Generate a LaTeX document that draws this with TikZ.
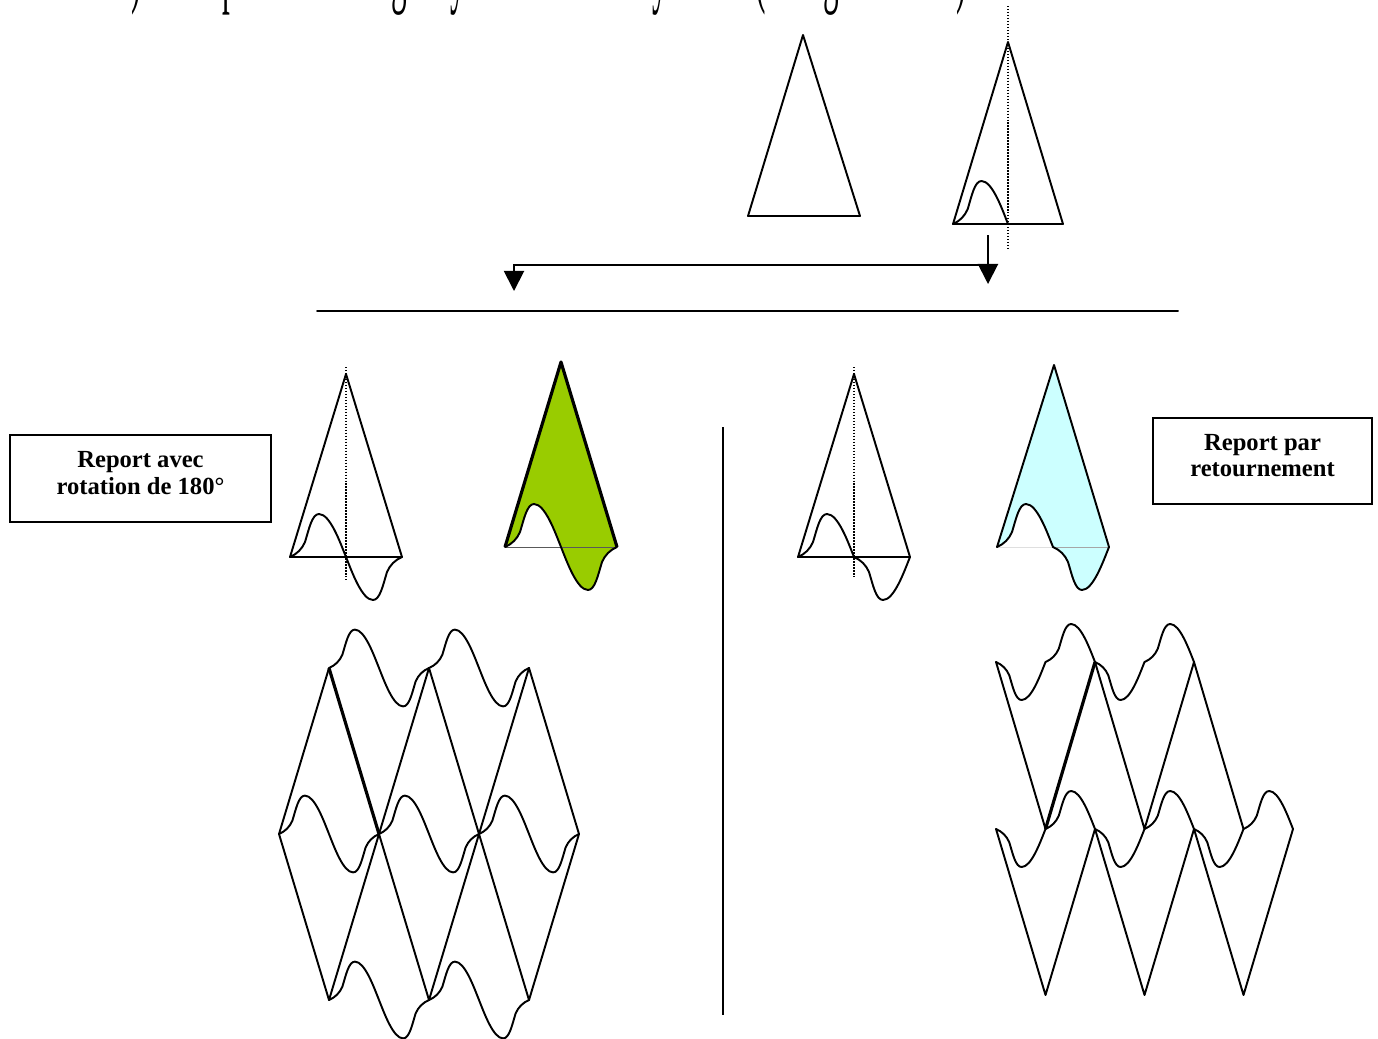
\documentclass[tikz,border=0pt]{standalone}
\usepackage{fontspec}
\setmainfont{Liberation Serif}
\usetikzlibrary{arrows.meta}

\definecolor{vertpomme}{HTML}{99CC00}
\definecolor{bleuciel}{HTML}{CCFFFF}

\begin{document}
\begin{tikzpicture}[x=0.02cm, y=-0.02cm,
					trait/.style = {line width=1.1pt, line join=round, line cap=round},
					fort/.style = {line width=1.8pt, line join=round},
					axe/.style = {line width=0.8pt, dash pattern=on 0.8pt off 0.9pt},
					fleche/.style = {line width=1.1pt, -{Triangle[length=11.5pt, width=11.5pt]}},
					cadre/.style = {draw, line width=1pt, align=center, inner sep=0pt, text depth=6.5pt,
						font=\fontsize{14}{15}\selectfont\bfseries}
				]

				% bosse sur la moitie gauche de la base (base de 112, sommet en (56,-183))
				\def\bosse{.. controls (7,-3) and (12,-8) .. (15,-15)
					.. controls (19,-28) and (22,-43) .. (29,-43)
					.. controls (40,-43) and (50,-15) .. (56,0)}
				% la meme tournee de 180 degres autour du milieu de la base
				\def\bosserot{.. controls (62,15) and (72,43) .. (83,43)
					.. controls (90,43) and (93,28) .. (97,15)
					.. controls (100,8) and (105,3) .. (112,0)}
				% la meme retournee sous la base
				\def\bosseret{.. controls (63,3) and (68,8) .. (71,15)
					.. controls (75,28) and (78,43) .. (85,43)
					.. controls (96,43) and (106,15) .. (112,0)}

				\useasboundingbox (0,0) rectangle (1378,1038);
				\clip (0,0) rectangle (1378,1038);

				\node[anchor=base west, inner sep=0pt, font=\fontsize{17.8}{20}\selectfont] (titre)
				at (131,-4) {\scalebox{1}[2.8]{) Exemple d’un triangle ayant un axe de symétrie (triangle isocèle)}};

				% triangles de depart
				\draw[trait] (748,216) -- (803,35) -- (860,216) -- cycle;
				\begin{scope}[shift={(953,224)}, xscale=0.982]
					\draw[trait] (0,0) -- (56,-182) -- (112,0) -- cycle;
					\draw[trait] (0,0) \bosse;
				\end{scope}
				\draw[axe] (1008,6) -- (1008,248);

				\coordinate (depart) at (988,235);
				\coordinate (coude) at (988,265);
				\coordinate (droite) at (988,284);
				\coordinate (gauche) at (514,265);
				\coordinate (bas) at (514,291);
				\draw[fleche] (depart) -- (droite);
				\draw[fleche] (coude) -- (gauche) -- (bas);

				\coordinate (regle-g) at (317,311);
				\coordinate (regle-d) at (1178,311);
				\draw[trait] (regle-g) -- (regle-d);
				\coordinate (sep-h) at (723,427);
				\coordinate (sep-b) at (723,1015);
				\draw[line width=0.9pt] (sep-h) -- (sep-b);

				\node[cadre, minimum width=5.22cm, minimum height=1.74cm] (rotation)
				at (140.5,478.5) {Report avec\\rotation de 180°};
				\node[cadre, minimum width=4.38cm, minimum height=1.72cm] (retournement)
				at (1262.5,461) {Report par\\retournement};

				% report avec rotation
				\begin{scope}[shift={(290,557)}]
					\draw[trait] (0,0) -- (56,-183) -- (112,0) -- cycle;
					\draw[trait] (0,0) \bosse \bosserot;
				\end{scope}
				\draw[axe] (346,367) -- (346,580);
				\begin{scope}[shift={(505,547)}]
					\fill[vertpomme] (0,0) \bosse \bosserot -- (56,-185) -- cycle;
					\draw[gray!70!black, line width=0.5pt] (0,0) -- (112,0);
					\draw[trait] (0,0) \bosse \bosserot;
					\draw[fort] (0,0) -- (56,-185) -- (112,0);
				\end{scope}

				% report par retournement
				\begin{scope}[shift={(798,557)}]
					\draw[trait] (0,0) -- (56,-183) -- (112,0) -- cycle;
					\draw[trait] (0,0) \bosse \bosseret;
				\end{scope}
				\draw[axe] (854,367) -- (854,579);
				\begin{scope}[shift={(997,547)}]
					\fill[bleuciel] (0,0) \bosse \bosseret -- (57,-182) -- cycle;
					\draw[gray!25, line width=0.5pt] (0,0) -- (56,0);
					\draw[gray!70, line width=0.5pt] (56,0) -- (112,0);
					\draw[trait] (0,0) \bosse \bosseret;
					\draw[trait] (0,0) -- (57,-182) -- (112,0);
				\end{scope}

				% pavage par rotation
				\foreach \i in {1,2,3} {
					\coordinate (gh\i) at ({229+100*\i},668);
					\coordinate (gb\i) at ({229+100*\i},1000);
				}
				\foreach \i in {0,...,3}
					\coordinate (gm\i) at ({279+100*\i},834);
				\draw[trait] (gm0) -- (gh1);
				\draw[fort] (gh1) -- (gm1);
				\draw[trait] (gm1) -- (gb2);
				\draw[trait] (gh2) -- (gm1) -- (gb1) -- (gm0);
				\draw[trait] (gh2) -- (gm2) -- (gb3);
				\draw[trait] (gh3) -- (gm2) -- (gb2);
				\draw[trait] (gh3) -- (gm3) -- (gb3);
				\foreach \x/\y in {329/668, 429/668, 279/834, 379/834, 479/834, 329/1000, 429/1000}
					\draw[trait, shift={(\x,\y)}, scale=0.893] (0,0) \bosse \bosserot;

				% pavage par retournement
				\foreach \i in {1,2,3} {
					\coordinate (dt\i) at ({897+99*\i},662);
					\coordinate (dv\i) at ({946.5+99*\i},829);
					\coordinate (dw\i) at ({946.5+99*\i},995);
				}
				\foreach \i in {1,...,4}
					\coordinate (ds\i) at ({897+99*\i},829);
				\draw[trait] (dt1) -- (dv1);
				\draw[fort] (dv1) -- (dt2);
				\draw[trait] (dt2) -- (dv2) -- (dt3) -- (dv3);
				\draw[trait] (ds1) -- (dw1) -- (ds2) -- (dw2) -- (ds3) -- (dw3) -- (ds4);
				\foreach \x/\y in {996/662, 1095/662, 996/829, 1095/829, 1194/829}
					\draw[trait, shift={(\x,\y)}, xscale=0.884, yscale=-0.884] (0,0) \bosse \bosseret;
			\end{tikzpicture}
\end{document}
